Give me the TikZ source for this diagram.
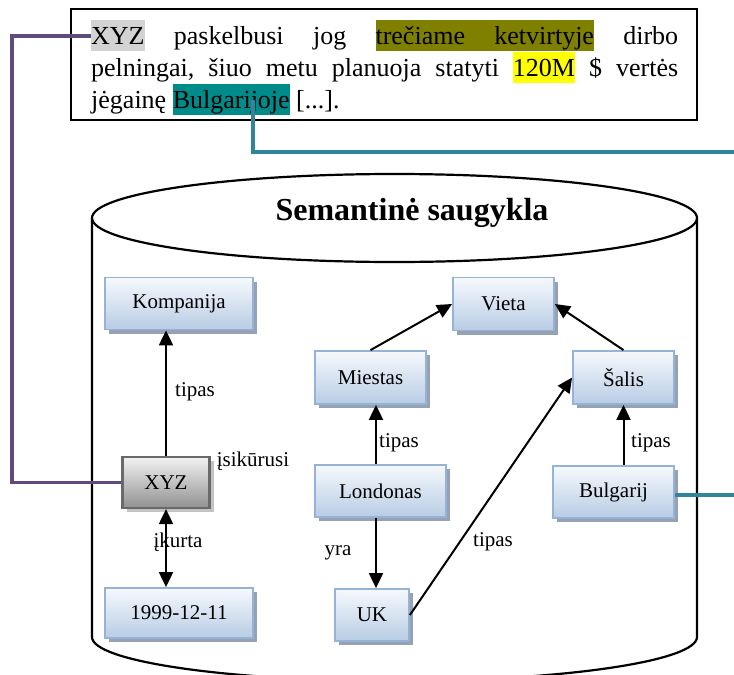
\documentclass[tikz,border=0pt]{standalone}
\usepackage{fontspec}
\setmainfont{Liberation Serif}
\usetikzlibrary{arrows.meta,shadows}

\definecolor{hlgray}{RGB}{211,211,211}
\definecolor{hlolive}{RGB}{128,128,0}
\definecolor{hlyellow}{RGB}{255,255,0}
\definecolor{hlteal}{RGB}{0,139,139}
\definecolor{linkpurple}{RGB}{96,74,123}
\definecolor{linkteal}{RGB}{49,133,155}
\definecolor{nodetop}{RGB}{246,249,253}
\definecolor{nodebot}{RGB}{184,204,228}
\definecolor{nodeborder}{RGB}{149,179,215}
\definecolor{nodeshadow}{RGB}{150,162,180}
\definecolor{graytop}{RGB}{242,242,242}
\definecolor{graybot}{RGB}{145,145,145}
\definecolor{grayborder}{RGB}{105,105,105}
\definecolor{grayshadow}{RGB}{195,195,195}

% highlighted word and highlighted stretchable space
\newcommand\hlbox[2]{{\fboxsep=0pt\colorbox{#1}{\rule[-7pt]{0pt}{31pt}#2}}}
\newcommand\hlgap[1]{{\color{#1}\leaders\vrule height 24pt depth 7pt\hskip\fontdimen2\font plus\fontdimen3\font minus\fontdimen4\font}}

\tikzset{
  concept/.style={draw=nodeborder, line width=1.8pt, top color=nodetop, bottom color=nodebot,
    drop shadow={shadow xshift=4pt, shadow yshift=-4pt, fill=nodeshadow, draw=none, opacity=1},
    font=\fontsize{21pt}{25pt}\selectfont, inner sep=0pt},
  entity/.style={draw=grayborder, line width=2.2pt, top color=graytop, bottom color=graybot,
    drop shadow={shadow xshift=4pt, shadow yshift=-4pt, fill=grayshadow, draw=none, opacity=1},
    font=\fontsize{21pt}{25pt}\selectfont, inner sep=0pt},
  rel/.style={font=\fontsize{21pt}{25pt}\selectfont, inner sep=0pt},
  arr/.style={line width=2pt, -{Triangle[length=15pt,width=14pt]}},
  biarr/.style={line width=2pt, {Triangle[length=15pt,width=14pt]}-{Triangle[length=15pt,width=14pt]}},
  link/.style={line width=3.2pt},
}

\begin{document}
\begin{tikzpicture}[x=1pt,y=-1pt]
\useasboundingbox (0,0) rectangle (734,675);

% source sentence
\draw[line width=2.2pt] (71,9) rectangle (697,120);
\node[anchor=north west, inner sep=0pt] (sentence) at (91,20) {\fontsize{26pt}{30.5pt}\selectfont\frenchspacing
  \vbox{\baselineskip=30.5pt
    \hbox to 587pt{\hlbox{hlgray}{XYZ} paskelbusi jog \hlbox{hlolive}{trečiame}\hlgap{hlolive}\hlbox{hlolive}{ketvirtyje} dirbo}
    \hbox to 587pt{pelningai, šiuo metu planuoja statyti \hlbox{hlyellow}{120M} \$ vertės}
    \hbox{jėgainę \hlbox{hlteal}{Bulgarijoje} [...].}}};

% storage cylinder
\draw[line width=2.2pt] (394.5,218) ellipse [x radius=302.5pt, y radius=44pt];
\draw[line width=2.2pt] (92,218) -- (92,637)
  arc[start angle=180, end angle=360, x radius=302.5pt, y radius=44pt] -- (697,218);
\node[font=\fontsize{32pt}{36pt}\selectfont\bfseries, inner sep=0pt] (title) at (412,213) {Semantinė saugykla};

% concepts
\node[concept, minimum width=148pt, minimum height=52pt] (kompanija) at (179,303.5) {Kompanija};
\node[entity,  minimum width=87pt,  minimum height=51pt] (xyz) at (166,482.5) {XYZ};
\node[concept, minimum width=148pt, minimum height=50pt] (date) at (179,613) {1999-12-11};
\node[concept, minimum width=101pt, minimum height=53pt] (vieta) at (503.5,304) {Vieta};
\node[concept, minimum width=111pt, minimum height=53pt] (miestas) at (370.5,377.5) {Miestas};
\node[concept, minimum width=101pt, minimum height=53pt] (salis) at (623.5,377.5) {Šalis};
\node[concept, minimum width=131pt, minimum height=52pt] (londonas) at (380.5,491) {Londonas};
\node[concept, minimum width=121pt, minimum height=52pt] (bulgarij) at (613.5,492) {Bulgarij};
\node[concept, minimum width=74pt,  minimum height=52pt] (uk) at (372,615) {UK};

\coordinate (lx) at (376,0);

% relations
\draw[arr] (xyz.north) -- (xyz.north |- kompanija.south);
\draw[biarr] (xyz.south) -- (xyz.south |- date.north);
\draw[arr] (miestas.north) -- (vieta.west);
\draw[arr] (salis.north) -- (vieta.east);
\draw[arr] (londonas.north -| lx) -- (miestas.south -| lx);
\draw[arr] (londonas.south -| lx) -- (uk.north -| lx);
\draw[arr] (uk.east) -- (salis.west);
\draw[arr] (bulgarij.north -| salis) -- (salis.south);

\node[rel] (l1) at (195,392) {tipas};
\node[rel] (l2) at (253,461) {įsikūrusi};
\node[rel] (l3) at (178,542) {įkurta};
\node[rel] (l4) at (399,443) {tipas};
\node[rel] (l5) at (338,553) {yra};
\node[rel] (l6) at (493,542) {tipas};
\node[rel] (l7) at (651,443) {tipas};

% annotation links
\coordinate (xyzmark) at (91,36);
\coordinate (pbend) at (12,36);
\draw[link, draw=linkpurple] (xyzmark) -- (pbend) |- (xyz.west);
\coordinate (bgmark) at (253,100);
\coordinate (tealend) at (734,152);
\coordinate (tealend2) at (734,495);
\draw[link, draw=linkteal] (bgmark) |- (tealend);
\draw[link, draw=linkteal] (bulgarij.east |- tealend2) -- (tealend2);
\end{tikzpicture}
\end{document}
